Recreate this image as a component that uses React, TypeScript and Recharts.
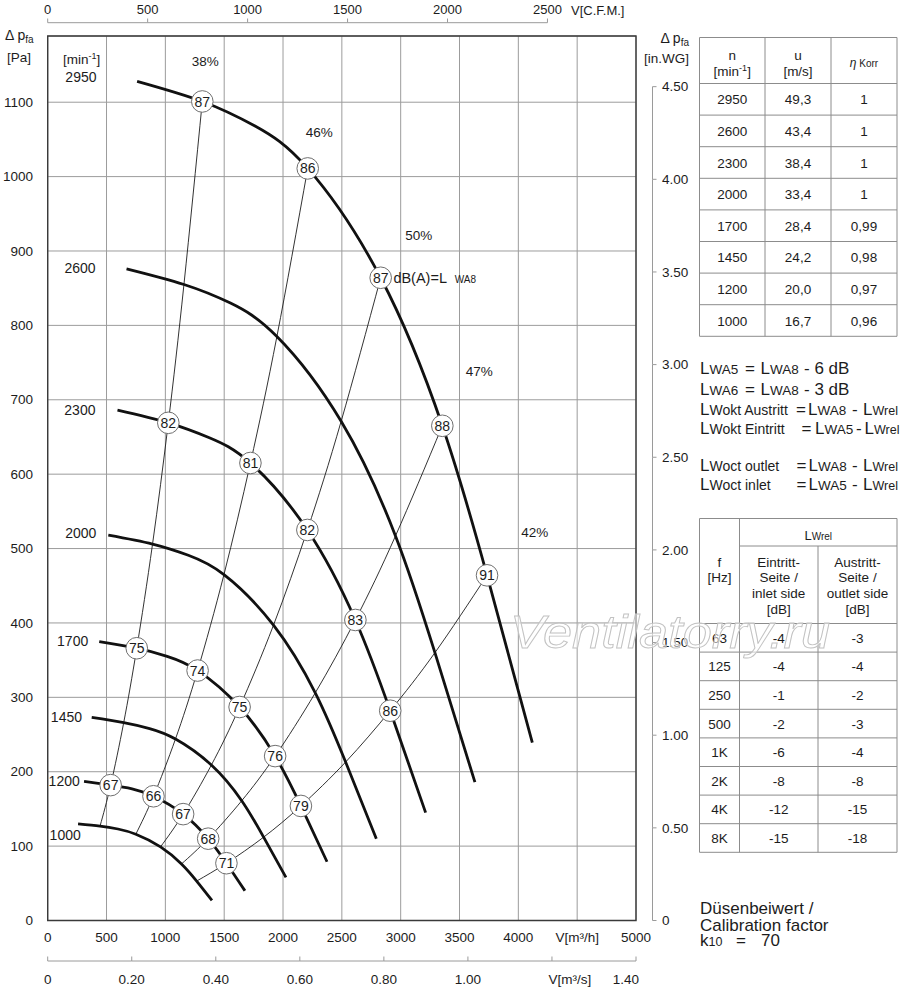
import React from "react";
import {
  ComposedChart,
  Line,
  Scatter,
  XAxis,
  YAxis,
  CartesianGrid,
  ReferenceArea,
} from "recharts";

const SPEEDS = [2950, 2600, 2300, 2000, 1700, 1450, 1200, 1000];

// volume flow [m³/h] and pressure [Pa]
const FLOW_2950 = [760, 1314, 1762, 2210, 2830, 3354, 3734, 4119];
const PA_2950 = [1128, 1101, 1068, 1011, 864, 665, 464, 239];
const FLOW_2600 = [670, 1158, 1553, 1948, 2494, 2956, 3291, 3631];
const PA_2600 = [876, 855, 830, 785, 671, 517, 360, 186];
const FLOW_2300 = [593, 1025, 1374, 1723, 2207, 2615, 2911, 3212];
const PA_2300 = [686, 669, 649, 615, 525, 404, 282, 145];
const FLOW_2000 = [515, 891, 1195, 1498, 1919, 2274, 2532, 2793];
const PA_2000 = [518, 506, 491, 465, 397, 306, 213, 110];
const FLOW_1700 = [438, 757, 1015, 1274, 1631, 1933, 2152, 2374];
const PA_1700 = [375, 366, 355, 336, 287, 221, 154, 79];
const FLOW_1450 = [374, 646, 866, 1086, 1391, 1649, 1835, 2025];
const PA_1450 = [273, 266, 258, 244, 209, 161, 112, 58];
const FLOW_1200 = [309, 535, 717, 899, 1151, 1364, 1519, 1676];
const PA_1200 = [187, 182, 177, 167, 143, 110, 77, 40];
const FLOW_1000 = [258, 445, 597, 749, 959, 1137, 1266, 1396];
const PA_1000 = [130, 127, 123, 116, 99, 76, 53, 27];

const FLOWS = [FLOW_2950, FLOW_2600, FLOW_2300, FLOW_2000, FLOW_1700, FLOW_1450, FLOW_1200, FLOW_1000];
const PRESSURES = [PA_2950, PA_2600, PA_2300, PA_2000, PA_1700, PA_1450, PA_1200, PA_1000];

// the thin system lines cross every speed curve at these points
const SYSTEM_POINT = [1, 3, 4, 5, 6];
const EFFICIENCY = ["38%", "46%", "50%", "47%", "42%"];

// LWA8 in dB(A) written in the circles
const DB_2950 = [87, 86, 87, 88, 91];
const DB_2300 = [82, 81, 82, 83, 86];
const DB_1700 = [75, 74, 75, 76, 79];
const DB_1200 = [67, 66, 67, 68, 71];
const DB_ON_CURVE: [number, number[]][] = [
  [0, DB_2950],
  [2, DB_2300],
  [4, DB_1700],
  [6, DB_1200],
];

const FLOW_TICKS = [0, 500, 1000, 1500, 2000, 2500, 3000, 3500, 4000, 4500, 5000];
const FLOW_TICK_LABELS = ["0", "500", "1000", "1500", "2000", "2500", "3000", "3500", "4000", "V[m³/h]", "5000"];
const PA_TICKS = [0, 100, 200, 300, 400, 500, 600, 700, 800, 900, 1000, 1100];
const CFM_TICKS = [0, 500, 1000, 1500, 2000, 2500];
const MS_TICKS = [0, 0.2, 0.4, 0.6, 0.8, 1.0, 1.2, 1.4];
const MS_TICK_LABELS = ["0", "0.20", "0.40", "0.60", "0.80", "1.00", "V[m³/s]", "1.40"];
const WG_TICKS = [0, 0.5, 1, 1.5, 2, 2.5, 3, 3.5, 4, 4.5];
const WG_TICK_LABELS = ["0", "0.50", "1.00", "1.50", "2.00", "2.50", "3.00", "3.50", "4.00", "4.50"];

// tables on the right
const TIP_SPEED = ["49,3", "43,4", "38,4", "33,4", "28,4", "24,2", "20,0", "16,7"];
const ETA_KORR = ["1", "1", "1", "1", "0,99", "0,98", "0,97", "0,96"];
const OCT_BANDS = ["63", "125", "250", "500", "1K", "2K", "4K", "8K"];
const LWREL_INLET = ["-4", "-4", "-1", "-2", "-6", "-8", "-12", "-15"];
const LWREL_OUTLET = ["-3", "-4", "-2", "-3", "-4", "-8", "-15", "-18"];

// layout
const W = 900;
const H = 991;
const PLOT_L = 47.7;
const PLOT_T = 36;
const PLOT_R = 636;
const PLOT_B = 920.5;
const PLOT_W = PLOT_R - PLOT_L;
const PLOT_H = PLOT_B - PLOT_T;
const PA_MAX = 1189;
const PA_PER_INWG = 249.089;
const M3H_PER_CFM = 1.699;

const STEP_CFM = ((500 * M3H_PER_CFM) / 5000) * PLOT_W;
const STEP_MS = (0.2 / 1.4) * PLOT_W;
const STEP_WG = ((0.5 * PA_PER_INWG) / PA_MAX) * PLOT_H;

const INK = "#1c1c1c";
const GRID = "#9c9c9c";
const AXIS_GREY = "#9a9a9a";
const BORDER = "#8c8c8c";
const FONT = '"Liberation Sans", Arial, Helvetica, sans-serif';

const SPEED_LABEL_SHIFT = [
  [-40.6, -4],
  [-31, -1],
  [-22, 0],
  [-12, -1.6],
  [-11, 0],
  [-9.7, 0],
  [-4.3, 0],
  [2.7, 11],
];
const PCT_LABEL_SHIFT = [
  [3, -40],
  [11.6, -36.6],
  [38, -42.6],
  [37, -55],
  [47.6, -42.7],
];

const curves = SPEEDS.map((_, i) => FLOWS[i].map((x, k) => ({ x, y: PRESSURES[i][k] })));
const systemLines = SYSTEM_POINT.map((k) =>
  SPEEDS.map((_, i) => ({ x: FLOWS[i][k], y: PRESSURES[i][k] })).sort((a, b) => a.x - b.x)
);
const dbMarks = DB_ON_CURVE.map(([ci, dbs]) =>
  SYSTEM_POINT.map((k, j) => ({
    x: FLOWS[ci][k],
    y: PRESSURES[ci][k],
    db: dbs[j],
    note: ci === 0 && j === 2,
  }))
);
const speedLabels = SPEEDS.map((n, i) => ({ x: FLOWS[i][0], y: PRESSURES[i][0], text: String(n), i }));
const pctLabels = EFFICIENCY.map((t, j) => ({
  x: FLOWS[0][SYSTEM_POINT[j]],
  y: PRESSURES[0][SYSTEM_POINT[j]],
  text: t,
  j,
}));
// invisible carriers so the secondary x axes get built
const msCarrier = MS_TICKS.map((x) => ({ x, y: 0 }));
const cfmCarrier = CFM_TICKS.map((x) => ({ x, y: 0 }));

const PaTick = ({ y, payload }: any) => (
  <text x={33} y={y} dy="0.35em" textAnchor="end" fontSize={13.5} fill={INK} fontFamily={FONT}>
    {payload.value}
  </text>
);

const FlowTick = ({ x, index }: any) => (
  <text x={x} y={937} dy="0.35em" textAnchor="middle" fontSize={13.5} fill={INK} fontFamily={FONT}>
    {FLOW_TICK_LABELS[index]}
  </text>
);

const MsTick = ({ x, index }: any) => {
  const last = index === MS_TICKS.length - 1;
  const anchor = last ? "end" : "middle";
  const dx = last ? 3 : index === 6 ? 18 : 0;
  return (
    <g>
      {!last && <line x1={x} x2={x + STEP_MS} y1={961} y2={961} stroke={AXIS_GREY} />}
      <line x1={x} x2={x} y1={956.5} y2={961} stroke={AXIS_GREY} />
      <text x={x + dx} y={979.5} dy="0.35em" textAnchor={anchor} fontSize={13.5} fill={INK} fontFamily={FONT}>
        {MS_TICK_LABELS[index]}
      </text>
    </g>
  );
};

const CfmTick = ({ x, index, payload }: any) => (
  <g>
    {index < CFM_TICKS.length - 1 && <line x1={x} x2={x + STEP_CFM} y1={22.7} y2={22.7} stroke={AXIS_GREY} />}
    <line x1={x} x2={x} y1={18.5} y2={22.7} stroke={AXIS_GREY} />
    <text x={x} y={9.5} dy="0.35em" textAnchor="middle" fontSize={13} fill={INK} fontFamily={FONT}>
      {payload.value}
    </text>
  </g>
);

const WgTick = ({ y, index }: any) => (
  <g>
    {index < WG_TICKS.length - 1 && (
      <line x1={652.5} x2={652.5} y1={y} y2={y - STEP_WG} stroke={AXIS_GREY} />
    )}
    <line x1={652.5} x2={656.5} y1={y} y2={y} stroke={AXIS_GREY} />
    <text x={662} y={y} dy="0.35em" textAnchor="start" fontSize={13.5} fill={INK} fontFamily={FONT}>
      {WG_TICK_LABELS[index]}
    </text>
  </g>
);

const DbCircle = (p: any) => (
  <g>
    <circle cx={p.cx} cy={p.cy} r={10.8} fill="#fff" stroke="#6f6f6f" strokeWidth={1} />
    <text x={p.cx} y={p.cy} dy="0.36em" textAnchor="middle" fontSize={14} fill={INK} fontFamily={FONT}>
      {p.payload.db}
    </text>
    {p.payload.note && (
      <text x={p.cx + 12.7} y={p.cy + 5.5} fontSize={14.5} fill={INK} fontFamily={FONT}>
        dB(A)=L
        <tspan x={p.cx + 74} fontSize={10}>
          WA8
        </tspan>
      </text>
    )}
  </g>
);

const SpeedLabel = (p: any) => {
  const [dx, dy] = SPEED_LABEL_SHIFT[p.payload.i];
  return (
    <text x={p.cx + dx} y={p.cy + dy} dy="0.35em" textAnchor="end" fontSize={14} fill={INK} fontFamily={FONT}>
      {p.payload.text}
    </text>
  );
};

const PctLabel = (p: any) => {
  const [dx, dy] = PCT_LABEL_SHIFT[p.payload.j];
  return (
    <text x={p.cx + dx} y={p.cy + dy} dy="0.35em" textAnchor="middle" fontSize={13.5} fill={INK} fontFamily={FONT}>
      {p.payload.text}
    </text>
  );
};

// "L" with a small index written on the same baseline
const Lw = ({ x, y, sub, size = 13.5 }: { x: number; y: number; sub: string; size?: number }) => (
  <text x={x} y={y} fill={INK} fontFamily={FONT}>
    <tspan fontSize={17}>L</tspan>
    <tspan fontSize={size}>{sub}</tspan>
  </text>
);
const T = ({ x, y, children }: any) => (
  <text x={x} y={y} fontSize={17} fill={INK} fontFamily={FONT}>
    {children}
  </text>
);

const T1_X = [699.5, 765, 831, 897];
const T1_TOP = 37.5;
const T1_HEAD = 83.5;
const T1_ROW = 31.6;
const T2_X = [699.5, 739.5, 818, 897];
const T2_TOP = 518.5;
const T2_SUB = 546;
const T2_HEAD = 623.5;
const T2_ROW = 28.6;

const SpeedTable = () => {
  const bottom = T1_HEAD + SPEEDS.length * T1_ROW;
  const mid = (a: number, b: number) => (a + b) / 2;
  return (
    <g fontFamily={FONT} fill={INK}>
      {[T1_TOP, T1_HEAD, ...SPEEDS.map((_, r) => T1_HEAD + (r + 1) * T1_ROW)].map((y, i) => (
        <line key={"h" + i} x1={T1_X[0]} x2={T1_X[3]} y1={y} y2={y} stroke={BORDER} />
      ))}
      {T1_X.map((x, i) => (
        <line key={"v" + i} x1={x} x2={x} y1={T1_TOP} y2={bottom} stroke={BORDER} />
      ))}
      <text x={mid(T1_X[0], T1_X[1])} y={59.5} textAnchor="middle" fontSize={13.5}>n</text>
      <text x={mid(T1_X[0], T1_X[1])} y={75.5} textAnchor="middle" fontSize={13.5}>
        [min<tspan fontSize={9} dy={-5}>-1</tspan>
        <tspan dy={5}>]</tspan>
      </text>
      <text x={mid(T1_X[1], T1_X[2])} y={59.5} textAnchor="middle" fontSize={13.5}>u</text>
      <text x={mid(T1_X[1], T1_X[2])} y={75.5} textAnchor="middle" fontSize={13.5}>[m/s]</text>
      <text x={mid(T1_X[2], T1_X[3])} y={67} textAnchor="middle" fontSize={10}>
        <tspan fontSize={12} fontStyle="italic">η</tspan> Korr
      </text>
      {SPEEDS.map((n, r) => {
        const y = T1_HEAD + (r + 0.5) * T1_ROW + 5;
        return (
          <g key={n}>
            <text x={mid(T1_X[0], T1_X[1])} y={y} textAnchor="middle" fontSize={13.5}>{n}</text>
            <text x={mid(T1_X[1], T1_X[2])} y={y} textAnchor="middle" fontSize={13.5}>{TIP_SPEED[r]}</text>
            <text x={mid(T1_X[2], T1_X[3])} y={y} textAnchor="middle" fontSize={13.5}>{ETA_KORR[r]}</text>
          </g>
        );
      })}
    </g>
  );
};

const OctaveTable = () => {
  const bottom = T2_HEAD + OCT_BANDS.length * T2_ROW;
  const mid = (a: number, b: number) => (a + b) / 2;
  const headLines = [561.7, 577, 593, 609];
  const inlet = ["Eintritt-", "Seite /", "inlet side", "[dB]"];
  const outlet = ["Austritt-", "Seite /", "outlet side", "[dB]"];
  return (
    <g fontFamily={FONT} fill={INK}>
      <line x1={T2_X[0]} x2={T2_X[3]} y1={T2_TOP} y2={T2_TOP} stroke={BORDER} />
      <line x1={T2_X[1]} x2={T2_X[3]} y1={T2_SUB} y2={T2_SUB} stroke={BORDER} />
      {[T2_HEAD, ...OCT_BANDS.map((_, r) => T2_HEAD + (r + 1) * T2_ROW)].map((y, i) => (
        <line key={"h" + i} x1={T2_X[0]} x2={T2_X[3]} y1={y} y2={y} stroke={BORDER} />
      ))}
      {[T2_X[0], T2_X[1], T2_X[3]].map((x, i) => (
        <line key={"v" + i} x1={x} x2={x} y1={T2_TOP} y2={bottom} stroke={BORDER} />
      ))}
      <line x1={T2_X[2]} x2={T2_X[2]} y1={T2_SUB} y2={bottom} stroke={BORDER} />
      <text x={mid(T2_X[1], T2_X[3])} y={539.5} textAnchor="middle" fontSize={13}>
        L<tspan fontSize={10}>Wrel</tspan>
      </text>
      <text x={mid(T2_X[0], T2_X[1])} y={566.5} textAnchor="middle" fontSize={13.5}>f</text>
      <text x={mid(T2_X[0], T2_X[1])} y={582} textAnchor="middle" fontSize={13.5}>[Hz]</text>
      {headLines.map((y, i) => (
        <g key={"hd" + i}>
          <text x={mid(T2_X[1], T2_X[2])} y={y + 5} textAnchor="middle" fontSize={13.5}>{inlet[i]}</text>
          <text x={mid(T2_X[2], T2_X[3])} y={y + 5} textAnchor="middle" fontSize={13.5}>{outlet[i]}</text>
        </g>
      ))}
      {OCT_BANDS.map((f, r) => {
        const y = T2_HEAD + (r + 0.5) * T2_ROW + 5;
        return (
          <g key={f}>
            <text x={mid(T2_X[0], T2_X[1])} y={y} textAnchor="middle" fontSize={13.5}>{f}</text>
            <text x={mid(T2_X[1], T2_X[2])} y={y} textAnchor="middle" fontSize={13.5}>{LWREL_INLET[r]}</text>
            <text x={mid(T2_X[2], T2_X[3])} y={y} textAnchor="middle" fontSize={13.5}>{LWREL_OUTLET[r]}</text>
          </g>
        );
      })}
    </g>
  );
};

const Formulas = () => (
  <g>
    <Lw x={700} y={373.5} sub="WA5" />
    <T x={745} y={373.5}>=</T>
    <Lw x={760.5} y={373.5} sub="WA8" />
    <T x={804} y={373.5}>- 6 dB</T>

    <Lw x={700} y={395} sub="WA6" />
    <T x={745} y={395}>=</T>
    <Lw x={760.5} y={395} sub="WA8" />
    <T x={804} y={395}>- 3 dB</T>

    <Lw x={700} y={415} sub="Wokt Austritt" size={14} />
    <T x={796} y={415}>=</T>
    <Lw x={808} y={415} sub="WA8" />
    <T x={852} y={415}>-</T>
    <Lw x={863} y={415} sub="Wrel" size={12.5} />

    <Lw x={700} y={434} sub="Wokt Eintritt" size={14} />
    <T x={801.5} y={434}>=</T>
    <Lw x={815} y={434} sub="WA5" />
    <T x={856} y={434}>-</T>
    <Lw x={864.5} y={434} sub="Wrel" size={12.5} />

    <Lw x={700} y={471} sub="Woct outlet" size={14} />
    <T x={796.5} y={471}>=</T>
    <Lw x={808.5} y={471} sub="WA8" />
    <T x={852} y={471}>-</T>
    <Lw x={863} y={471} sub="Wrel" size={12.5} />

    <Lw x={700} y={489.5} sub="Woct inlet" size={14} />
    <T x={796.5} y={489.5}>=</T>
    <Lw x={808.5} y={489.5} sub="WA5" />
    <T x={852} y={489.5}>-</T>
    <Lw x={863} y={489.5} sub="Wrel" size={12.5} />
  </g>
);

const Annotations = () => (
  <svg
    width={W}
    height={H}
    style={{ position: "absolute", left: 0, top: 0, pointerEvents: "none" }}
    fontFamily={FONT}
  >
    <g fill={INK}>
      <text x={5} y={40} fontSize={14}>
        Δ p<tspan fontSize={10} dy={3}>fa</tspan>
      </text>
      <text x={7} y={62} fontSize={13.5}>[Pa]</text>
      <text x={63} y={63.5} fontSize={13.5}>
        [min<tspan fontSize={9} dy={-5}>-1</tspan>
        <tspan dy={5}>]</tspan>
      </text>
      <text x={689} y={43} fontSize={14} textAnchor="end">
        Δ p<tspan fontSize={10} dy={3}>fa</tspan>
      </text>
      <text x={689} y={63} fontSize={13.5} textAnchor="end">[in.WG]</text>
      <text x={571} y={14.5} fontSize={13}>V[C.F.M.]</text>
    </g>
    <Formulas />
    <T x={700} y={914}>Düsenbeiwert /</T>
    <T x={700} y={930.5}>Calibration factor</T>
    <text x={700} y={946} fontSize={17} fill={INK} fontFamily={FONT}>
      k<tspan fontSize={12.5}>10</tspan>
    </text>
    <T x={736} y={946}>=</T>
    <T x={761} y={946}>70</T>
    <SpeedTable />
    <OctaveTable />
    <text
      x={510}
      y={648}
      fontSize={46}
      fontStyle="italic"
      fill="#ffffff"
      fillOpacity={0.55}
      stroke="#c2c2c2"
      strokeWidth={0.9}
      textLength={320}
      lengthAdjust="spacingAndGlyphs"
    >
      Ventilatorry.ru
    </text>
  </svg>
);

const App = () => {
  return (
    <div style={{ position: "relative", width: W, height: H, background: "#fff", fontFamily: FONT }}>
      <style>{"body{margin:0;}"}</style>
      <ComposedChart width={W} height={H} margin={{ top: 0, right: 204, bottom: 0, left: 0 }}>
        <CartesianGrid stroke={GRID} strokeWidth={1} />
        <XAxis
          dataKey="x"
          type="number"
          domain={[0, 5000]}
          ticks={FLOW_TICKS}
          interval={0}
          allowDataOverflow
          height={30}
          axisLine={false}
          tickLine={false}
          tick={FlowTick}
        />
        <XAxis
          xAxisId="ms"
          dataKey="x"
          type="number"
          domain={[0, 1.4]}
          ticks={MS_TICKS}
          interval={0}
          allowDataOverflow
          height={H - PLOT_B - 30}
          axisLine={false}
          tickLine={false}
          tick={MsTick}
        />
        <XAxis
          xAxisId="cfm"
          dataKey="x"
          orientation="top"
          type="number"
          domain={[0, 5000 / M3H_PER_CFM]}
          ticks={CFM_TICKS}
          interval={0}
          allowDataOverflow
          height={PLOT_T}
          axisLine={false}
          tickLine={false}
          tick={CfmTick}
        />
        <YAxis
          dataKey="y"
          type="number"
          domain={[0, PA_MAX]}
          ticks={PA_TICKS}
          interval={0}
          allowDataOverflow
          width={PLOT_L}
          axisLine={false}
          tickLine={false}
          tick={PaTick}
        />
        <YAxis
          yAxisId="wg"
          orientation="right"
          type="number"
          domain={[0, PA_MAX / PA_PER_INWG]}
          ticks={WG_TICKS}
          interval={0}
          allowDataOverflow
          width={60}
          axisLine={false}
          tickLine={false}
          tick={WgTick}
        />
        <ReferenceArea x1={0} x2={5000} y1={0} y2={PA_MAX} fill="none" stroke="#3a3a3a" strokeWidth={1.4} />

        <Line
          xAxisId="ms"
          data={msCarrier}
          dataKey="y"
          stroke="none"
          dot={false}
          activeDot={false}
          legendType="none"
          isAnimationActive={false}
        />
        <Line
          xAxisId="cfm"
          data={cfmCarrier}
          dataKey="y"
          stroke="none"
          dot={false}
          activeDot={false}
          legendType="none"
          isAnimationActive={false}
        />
        {systemLines.map((pts, i) => (
          <Line
            key={"sys" + i}
            data={pts}
            dataKey="y"
            type="natural"
            stroke={INK}
            strokeWidth={0.9}
            dot={false}
            activeDot={false}
            isAnimationActive={false}
          />
        ))}
        {curves.map((pts, i) => (
          <Line
            key={"n" + SPEEDS[i]}
            data={pts}
            dataKey="y"
            type="natural"
            stroke="#111"
            strokeWidth={2.8}
            dot={false}
            activeDot={false}
            isAnimationActive={false}
          />
        ))}
        {dbMarks.map((pts, i) => (
          <Scatter key={"db" + i} data={pts} shape={DbCircle} isAnimationActive={false} />
        ))}
        <Scatter data={speedLabels} shape={SpeedLabel} isAnimationActive={false} />
        <Scatter data={pctLabels} shape={PctLabel} isAnimationActive={false} />
      </ComposedChart>
      <Annotations />
    </div>
  );
};

export default App;
